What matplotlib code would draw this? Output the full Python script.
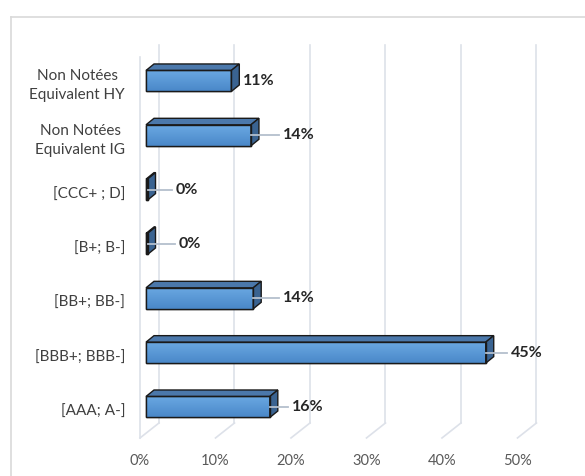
import numpy as np
import matplotlib.pyplot as plt
from matplotlib.patches import Polygon

# Données (de bas en haut)
categories = ['[AAA; A-]', '[BBB+; BBB-]', '[BB+; BB-]', '[B+; B-]', '[CCC+ ; D]',
              'Non Notées\nEquivalent IG', 'Non Notées\nEquivalent HY']
valeurs = [16.4, 45.0, 14.2, 0.2, 0.2, 13.9, 11.3]
ticks = [0, 10, 20, 30, 40, 50]

# écart (px) entre le bout de la barre et l'étiquette
ecarts_px = [14, 17, 22, 23, 20, 24, 4]

W, H = 585, 476
fig = plt.figure(figsize=(W / 100, H / 100), dpi=100)
ax = fig.add_axes([0, 0, 1, 1])
XMIN, XMAX = -19.34, 58.15
YMIN, YMAX = -1.27, 7.49
ax.set_xlim(XMIN, XMAX)
ax.set_ylim(YMIN, YMAX)
ax.axis('off')

px = (XMAX - XMIN) / W   # % par pixel
py = (YMAX - YMIN) / H   # catégorie par pixel

# effet 3D
dx, dy = 8 * px, 6.5 * py
h = 21 * py
avant, arriere = -6 * px, 13 * px
y_sol_avant, y_sol_arriere, y_haut = -0.57, -0.294, 6.66
grille = '#dde1e9'

# cadre du graphique
ax.plot([XMIN + 11 * px, XMIN + 11 * px], [YMIN, YMAX - 17 * py], color='#d9d9d9', lw=1.2)
ax.plot([XMIN + 11 * px, XMAX], [YMAX - 17 * py, YMAX - 17 * py], color='#d9d9d9', lw=1.2)

# quadrillage (paroi du fond + sol)
for t in ticks:
    ax.plot([t + arriere, t + arriere], [y_sol_arriere, y_haut], color=grille, lw=1.2, zorder=1)
    ax.plot([t + avant, t + arriere], [y_sol_avant, y_sol_arriere], color=grille, lw=1.2, zorder=1)
    ax.text(t + avant, -0.994, f'{t}%', ha='center', va='center', fontsize=10.5,
            color='#595959', family='Lato')
ax.plot([avant, avant], [y_sol_avant, 6.44], color=grille, lw=1.2, zorder=1)

# dégradé de la face avant
grad = np.linspace(0, 1, 50).reshape(-1, 1)
cmap = plt.matplotlib.colors.LinearSegmentedColormap.from_list('b', ['#4a88c9', '#6aa8e2'])

for i, (cat, v) in enumerate(zip(categories, valeurs)):
    y0, y1 = i - h / 2, i + h / 2
    barre = ax.barh(i, v, height=h, left=0, color='#5b9bd5', edgecolor='#1a1a1a',
                    lw=1.0, zorder=3)[0]
    im = ax.imshow(grad, extent=(0, v, y0, y1), origin='lower', cmap=cmap,
                   aspect='auto', zorder=3)
    im.set_clip_path(barre)
    ax.add_patch(Polygon([(0, y1), (v, y1), (v + dx, y1 + dy), (dx, y1 + dy)],
                         closed=True, fc='#4b78ab', ec='#1a1a1a', lw=1.0, zorder=3))
    ax.add_patch(Polygon([(v, y0), (v + dx, y0 + dy), (v + dx, y1 + dy), (v, y1)],
                         closed=True, fc='#3a6391', ec='#1a1a1a', lw=1.0, zorder=3))
    ax.barh(i, v, height=h, left=0, color='none', edgecolor='#1a1a1a', lw=1.0, zorder=4)

    # étiquettes
    xl = v + dx + ecarts_px[i] * px
    if ecarts_px[i] > 8:
        ax.plot([v, xl - 4 * px], [i, i], color='#b4bfcd', lw=1.3, zorder=5)
    ax.text(xl, i, f'{v:.0f}%', ha='left', va='center', fontsize=11.5,
            fontweight='bold', color='#262626', family='Lato', zorder=6)
    ax.text(-2.78, i - 5 * py, cat, ha='right', va='center', multialignment='center',
            fontsize=11, color='#404040', family='Lato', linespacing=1.45)

fig.savefig('out.png', dpi=100)
